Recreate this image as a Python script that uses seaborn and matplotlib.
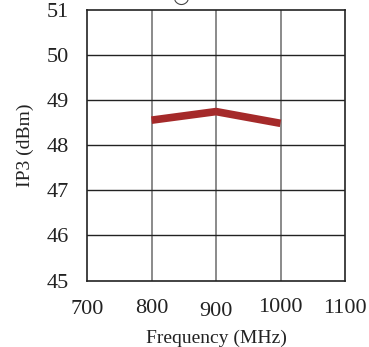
import matplotlib
matplotlib.use("Agg")
import matplotlib.pyplot as plt
import matplotlib.transforms as mtransforms
import seaborn as sns
import pandas as pd

freq = [800, 900, 1000]
ip3 = [48.55, 48.74, 48.48]
xticks = [700, 800, 900, 1000, 1100]
yticks = [45, 46, 47, 48, 49, 50, 51]

sns.set_theme(style="white")
plt.rcParams['font.family'] = ['Liberation Serif', 'DejaVu Serif']

df = pd.DataFrame({"Frequency": freq, "IP3": ip3})

fig = plt.figure(figsize=(3.69, 3.47), dpi=100)
ax = fig.add_axes([0.2358, 0.1916, 0.935 - 0.2358, 0.9726 - 0.1916])

sns.lineplot(data=df, x="Frequency", y="IP3", ax=ax, color="#A52A2A", linewidth=5.5, solid_capstyle="butt")

ax.set_xlim(700, 1100)
ax.set_ylim(45, 51)
ax.set_xticks(xticks)
ax.set_yticks(yticks)
ax.set_xticklabels([str(v) for v in xticks], fontsize=16)
ax.set_yticklabels([str(v) for v in yticks], fontsize=16)
ax.tick_params(axis='both', length=0, colors="#222222")
ax.tick_params(axis='y', pad=13)
ax.tick_params(axis='x', pad=14)

# slight vertical stagger of x tick labels as in the reference
offsets = [0, -1, 2, -2, -1]
for lab, off in zip(ax.get_xticklabels(), offsets):
    lab.set_transform(lab.get_transform() + mtransforms.ScaledTranslation(0, -off / 100, fig.dpi_scale_trans))

for x in xticks[1:-1]:
    ax.axvline(x, color="#777777", linewidth=1.2, zorder=0)
for y in yticks[1:-1]:
    ax.axhline(y, color="#222222", linewidth=1.0, zorder=0)

for s in ax.spines.values():
    s.set_color("#222222")
    s.set_linewidth(1.2)

ax.set_xlabel("Frequency (MHz)", fontsize=14, color="#222222")
ax.xaxis.set_label_coords(0.5, -0.18)
ax.set_ylabel("IP3 (dBm)", fontsize=14, color="#222222")
ax.yaxis.set_label_coords(-0.205, 0.5)

fig.text(181 / 369, 1.008, "○", fontsize=14, ha="center", va="center",
         family=["DejaVu Sans"], color="#444444")

fig.savefig("out.png", dpi=100)
